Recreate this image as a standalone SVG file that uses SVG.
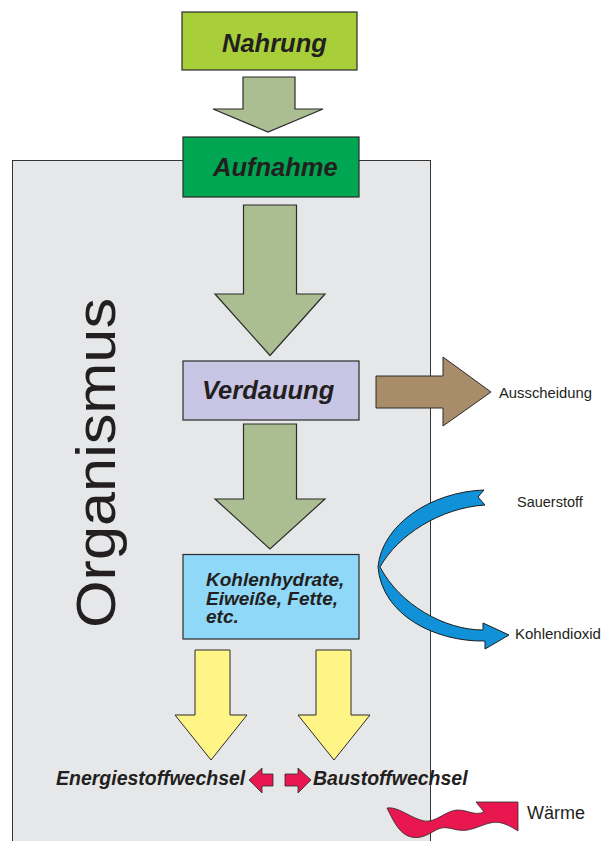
<svg xmlns="http://www.w3.org/2000/svg" width="611" height="841" viewBox="0 0 611 841">
<style>
.box{stroke:#2b2b2b;stroke-width:1.2}
.title{font-family:"Liberation Sans",Arial,sans-serif;font-weight:bold;font-style:italic;fill:#231f20}
.lbl{font-family:"Liberation Sans",Arial,sans-serif;fill:#231f20}
.green{fill:#abbe91;stroke:#2b2b2b;stroke-width:1.2;stroke-linejoin:miter}
.yellow{fill:#fff587;stroke:#2b2b2b;stroke-width:1}
.red{fill:#e8174f;stroke:#2b2b2b;stroke-width:0.8}
</style>
<rect width="611" height="841" fill="#ffffff"/>
<g id="organismus">
<rect x="12.5" y="160.5" width="418" height="690" fill="#e6e7e9" stroke="#333" stroke-width="1"/>
<text class="lbl" transform="translate(115,628) rotate(-90)" font-size="56" textLength="330" lengthAdjust="spacingAndGlyphs">Organismus</text>
</g>
<g id="connectors">
<polygon class="green" points="243,77 295,77 295,109 323,109 268,132 213,109 243,109"/>
<polygon class="green" points="243.5,205 296.5,205 296.5,294 325,294 270,355.5 215,294 243.5,294"/>
<polygon class="green" points="243.5,424 296.5,424 296.5,499 325,499 270,549 215,499 243.5,499"/>
<polygon points="376,376 443,376 443,357 491,392 443,426 443,408 376,408" fill="#a98c6a" stroke="#2b2b2b" stroke-width="1"/>
<path d="M484,490 C430,492 382,525 378,567 C382,615 435,642 485,641 L485,649 L509,635 L483,623 L483,630 C445,630 400,605 380,567 C398,535 440,508 485,505 L478,497 Z" fill="#1192d8" stroke="#1d1d1d" stroke-width="1"/>
<polygon class="yellow" points="195,650 230,650 230,715 247,715 211,760 175,715 195,715"/>
<polygon class="yellow" points="316,650 351,650 351,715 370,715 334,760 298,715 316,715"/>
<polygon class="red" points="249,780 262,768 262,774 273,774 273,786 262,786 262,793"/>
<polygon class="red" points="311,780 298,768 298,774 285,774 285,786 298,786 298,793"/>
<path class="red" d="M387,808 C398,806 410,818 424,821 C436,823 446,810 458,810 C468,810 474,816 484,812 L476,802 L518,802 L518,831 C510,826 500,820 490,823 C478,826 470,832 458,830 C448,828 444,826 436,830 C426,836 418,840 408,836 C398,832 392,818 387,808 Z"/>
</g>
<g id="nahrung">
<rect class="box" x="182" y="12" width="175" height="58" fill="#a8cf3a"/>
<text class="title" x="222" y="52" font-size="25.5">Nahrung</text>
</g>
<g id="aufnahme">
<rect class="box" x="183" y="137" width="176" height="60" fill="#00a651"/>
<text class="title" x="213" y="176" font-size="25.5">Aufnahme</text>
</g>
<g id="verdauung">
<rect class="box" x="183" y="361" width="176" height="59" fill="#c9c5e5"/>
<text class="title" x="202" y="399" font-size="25.5">Verdauung</text>
</g>
<g id="naehrstoffe">
<rect class="box" x="183" y="554.5" width="176" height="84.5" fill="#8fd8f8"/>
<text class="title" font-size="19"><tspan x="206" y="586">Kohlenhydrate,</tspan><tspan x="206" y="604.5">Eiweiße, Fette,</tspan><tspan x="206" y="623">etc.</tspan></text>
</g>
<g id="energiestoffwechsel">
<text class="title" x="56" y="785" font-size="19.5">Energiestoffwechsel</text>
</g>
<g id="baustoffwechsel">
<text class="title" x="313" y="785" font-size="19.5">Baustoffwechsel</text>
</g>
<g id="ausscheidung"><text class="lbl" x="499" y="398" font-size="14.8">Ausscheidung</text></g>
<g id="sauerstoff"><text class="lbl" x="517" y="507" font-size="14.5">Sauerstoff</text></g>
<g id="kohlendioxid"><text class="lbl" x="515" y="638.5" font-size="15">Kohlendioxid</text></g>
<g id="waerme"><text class="lbl" x="527" y="819" font-size="18">Wärme</text></g>
</svg>
